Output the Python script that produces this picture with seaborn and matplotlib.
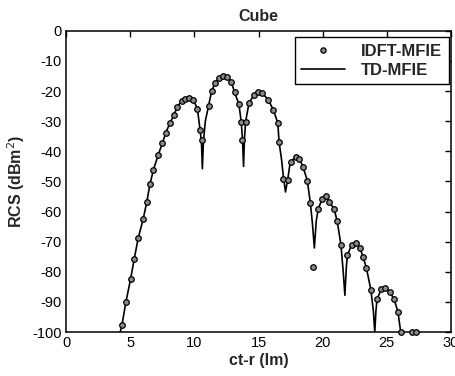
import matplotlib
matplotlib.use("Agg")
import matplotlib.pyplot as plt
import seaborn as sns
import pandas as pd
from matplotlib.lines import Line2D

# TD-MFIE curve
td_x = [4.22, 4.35, 4.66, 5.03, 5.31, 5.62, 6.0, 6.29, 6.53, 6.81, 7.17, 7.51, 7.77, 8.1, 8.39, 8.68,
        9.01, 9.27, 9.58, 9.92, 10.23, 10.44, 10.55, 10.62, 10.7, 10.85, 11.1, 11.34, 11.6, 11.9,
        12.22, 12.56, 12.87, 13.13, 13.47, 13.65, 13.75, 13.83, 13.9, 13.99, 14.25, 14.63, 14.94,
        15.28, 15.77, 16.16, 16.5, 16.6, 16.8, 16.94, 17.1, 17.27, 17.46, 17.85, 18.18, 18.47, 18.8,
        19.04, 19.2, 19.35, 19.5, 19.66, 19.97, 20.23, 20.51, 20.88, 21.13, 21.42, 21.6, 21.73,
        21.85, 21.93, 22.25, 22.63, 22.9, 23.15, 23.41, 23.75, 23.95, 24.06, 24.15, 24.24, 24.58,
        24.89, 25.23, 25.56, 25.87, 26.08]
td_y = [-100, -97.7, -90.1, -82.3, -75.7, -68.8, -62.6, -56.8, -51, -46.1, -41.3, -37.2, -33.8, -30.6,
        -28, -25.2, -23.2, -22.7, -22.3, -23, -25.8, -32.8, -37, -45.8, -37, -30, -25, -20, -17.4,
        -15.8, -15, -15.4, -16.9, -20.4, -24.4, -30.2, -36, -45, -36, -30.2, -24.1, -21.3, -20.2,
        -20.6, -23, -26.3, -30.6, -36.9, -43, -48.6, -53.5, -49.4, -43.9, -41.9, -42.4, -45.2, -49.7,
        -57.2, -64, -72.1, -63, -59, -55.7, -54.9, -56.8, -59, -63.2, -71, -80, -87.8,
        -78, -74.5, -71, -70.3, -72, -75.1, -78.8, -85.9, -93, -100, -93, -89, -85.7,
        -85.3, -86.8, -89, -93.4, -100]

# IDFT-MFIE samples
idft_x = [4.35, 4.66, 5.03, 5.31, 5.62, 6.0, 6.29, 6.53, 6.81, 7.17, 7.51, 7.77, 8.1, 8.39, 8.68, 9.01,
          9.27, 9.58, 9.92, 10.23, 10.44, 10.62, 11.1, 11.34, 11.6, 11.9, 12.22, 12.56, 12.87, 13.13,
          13.47, 13.65, 13.73, 13.99, 14.25, 14.63, 14.94, 15.28, 15.77, 16.16, 16.5, 16.6, 16.91,
          17.27, 17.5, 17.9, 18.18, 18.47, 18.81, 19.02, 19.25, 19.66, 19.97, 20.23, 20.51, 20.88,
          21.13, 21.4, 21.93, 22.25, 22.63, 22.9, 23.15, 23.41, 23.75, 24.24, 24.58, 24.89, 25.23,
          25.56, 25.87, 26.08, 27.0, 27.3]
idft_y = [-97.7, -90.1, -82.3, -75.7, -68.8, -62.6, -56.8, -51, -46.1, -41.3, -37.2, -33.8, -30.6, -28,
          -25.2, -23.2, -22.7, -22.3, -23, -25.8, -32.8, -36.1, -25, -20, -17.4, -15.8, -15, -15.4,
          -16.9, -20.4, -24.4, -30.2, -36.3, -30.2, -24.1, -21.3, -20.2, -20.6, -23, -26.3, -30.6,
          -36.9, -49.1, -49.4, -43.5, -41.9, -42.4, -45.2, -49.7, -57.2, -78.5, -59, -55.7, -54.9,
          -56.8, -59, -63.2, -71, -74.5, -71, -70.3, -72, -75.1, -78.8, -85.9, -89, -85.7, -85.3,
          -86.8, -89, -93.4, -100, -100, -100]

x_ticks = [0, 5, 10, 15, 20, 25, 30]
y_ticks = [-100, -90, -80, -70, -60, -50, -40, -30, -20, -10, 0]

sns.set_style("white")
plt.rcParams['font.family'] = ['Liberation Sans', 'DejaVu Sans']
plt.rcParams['axes.unicode_minus'] = False

fig = plt.figure(figsize=(4.56, 3.76), dpi=100)
ax = fig.add_axes([0.145, 0.117, 0.844, 0.801])

td = pd.DataFrame({"x": td_x, "y": td_y})
idft = pd.DataFrame({"x": idft_x, "y": idft_y})

sns.lineplot(data=td, x="x", y="y", ax=ax, color="black", linewidth=1.2,
             estimator=None, sort=False, zorder=2)
sns.scatterplot(data=idft, x="x", y="y", ax=ax, marker="o", s=16, facecolor="#8a8a8a",
                edgecolor="black", linewidth=0.9, zorder=3, clip_on=False)

ax.set_xlim(0, 30)
ax.set_ylim(-100, 0)
ax.set_xticks(x_ticks)
ax.set_yticks(y_ticks)
ax.set_xticklabels([str(t) for t in x_ticks])
ax.set_yticklabels([str(t) for t in y_ticks])
ax.tick_params(direction="in", length=4, width=1, top=True, right=True,
               labelsize=10.5, colors="black", pad=3)
for s in ax.spines.values():
    s.set_visible(True)
    s.set_color("black")
    s.set_linewidth(1.1)

ax.set_title("Cube", fontsize=11.5, fontweight="bold", pad=7)
ax.set_xlabel("ct-r (lm)", fontsize=11.5, fontweight="bold", labelpad=2)
ax.set_ylabel("RCS (dBm$^2$)", fontsize=11.5, fontweight="bold", labelpad=4)

handles = [Line2D([], [], linestyle="none", marker="o", markersize=3.8, markerfacecolor="#8a8a8a",
                  markeredgecolor="black", markeredgewidth=0.9),
           Line2D([], [], color="black", linewidth=1.2)]
leg = ax.legend(handles, ["IDFT-MFIE", "TD-MFIE"], loc="upper right", fontsize=12,
                frameon=True, fancybox=False, edgecolor="black", framealpha=1,
                bbox_to_anchor=(0.995, 0.98), borderaxespad=0.0,
                handlelength=2.6, handletextpad=1.0, borderpad=0.4, labelspacing=0.25)
leg.get_frame().set_linewidth(1.0)
for t in leg.get_texts():
    t.set_fontweight("bold")

fig.savefig("out.png", dpi=100)
